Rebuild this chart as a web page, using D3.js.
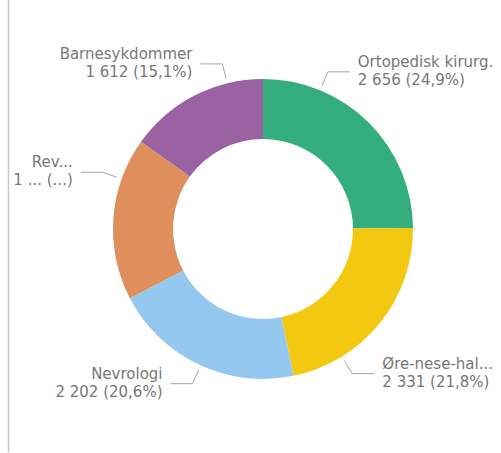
<!DOCTYPE html>
<html>
<head>
<meta charset="utf-8">
<script src="https://cdn.jsdelivr.net/npm/d3@7"></script>
<style>
  html, body { margin: 0; padding: 0; background: #ffffff; overflow: hidden; }
  svg { display: block; }
</style>
</head>
<body>
<svg id="chart" width="501" height="453"></svg>
<script>
// ---- data ----
const categories = ["Ortopedisk kirurg.", "Øre-nese-hal...", "Nevrologi", "Rev...", "Barnesykdommer"];
const values = [2656, 2331, 2202, 1870, 1612];
const truncatedValue = [false, false, false, true, false];
const colors = ["#34AE7F", "#F2C811", "#95C8EF", "#DE8F5C", "#9A62A0"];

// ---- layout (not data) ----
const W = 501, H = 453;
const cx = 263, cy = 229;
const outerR = 150, innerR = 90;
const leaderStartR = 155, kneeR = 170;
const kneeAngleDeg = [22.4, 148.3, 204.5, 289.5, 346.2];
const hSeg = 22, textGap = 8;

const svg = d3.select("#chart");

// left border line
svg.append("line")
  .attr("x1", 8.5).attr("x2", 8.5)
  .attr("y1", 0).attr("y2", 452)
  .attr("stroke", "#c8c8c8").attr("stroke-width", 1.5);

const total = d3.sum(values);
const pie = d3.pie().sort(null).value(d => d.value);
const arc = d3.arc().innerRadius(innerR).outerRadius(outerR);

const rows = categories.map((c, i) => ({ cat: c, value: values[i], color: colors[i], i }));
const arcs = pie(rows);

const g = svg.append("g").attr("transform", `translate(${cx},${cy})`);
g.selectAll("path.slice")
  .data(arcs)
  .enter().append("path")
  .attr("class", "slice")
  .attr("d", arc)
  .attr("fill", d => d.data.color);

const numFmt = d3.formatLocale({ decimal: ",", thousands: " ", grouping: [3], currency: ["", " kr"] });
const fmtInt = numFmt.format(",d");
const fmtPct = numFmt.format(".1f");

arcs.forEach((d, i) => {
  const a = kneeAngleDeg[i] * Math.PI / 180;
  const sx = Math.sin(a) * leaderStartR, sy = -Math.cos(a) * leaderStartR;
  const kx = Math.sin(a) * kneeR, ky = -Math.cos(a) * kneeR;
  const right = Math.sin(a) > 0;
  const ex = kx + (right ? hSeg : -hSeg);
  g.append("polyline")
    .attr("points", `${sx},${sy} ${kx},${ky} ${ex},${ky}`)
    .attr("fill", "none")
    .attr("stroke", "#a6a6a6")
    .attr("stroke-width", 1);
  const tx = ex + (right ? textGap : -textGap);
  const label = truncatedValue[i]
    ? "1 ... (...)"
    : `${fmtInt(d.data.value)} (${fmtPct(d.data.value / total * 100)}%)`;
  const t = g.append("text")
    .attr("x", tx)
    .attr("text-anchor", right ? "start" : "end")
    .attr("font-family", "'DejaVu Sans', sans-serif")
    .attr("font-size", 15)
    .attr("fill", "#777777");
  t.append("tspan").attr("x", tx).attr("y", ky - 5).text(d.data.cat);
  t.append("tspan").attr("x", tx).attr("y", ky + 13).text(label);
});
</script>
</body>
</html>
